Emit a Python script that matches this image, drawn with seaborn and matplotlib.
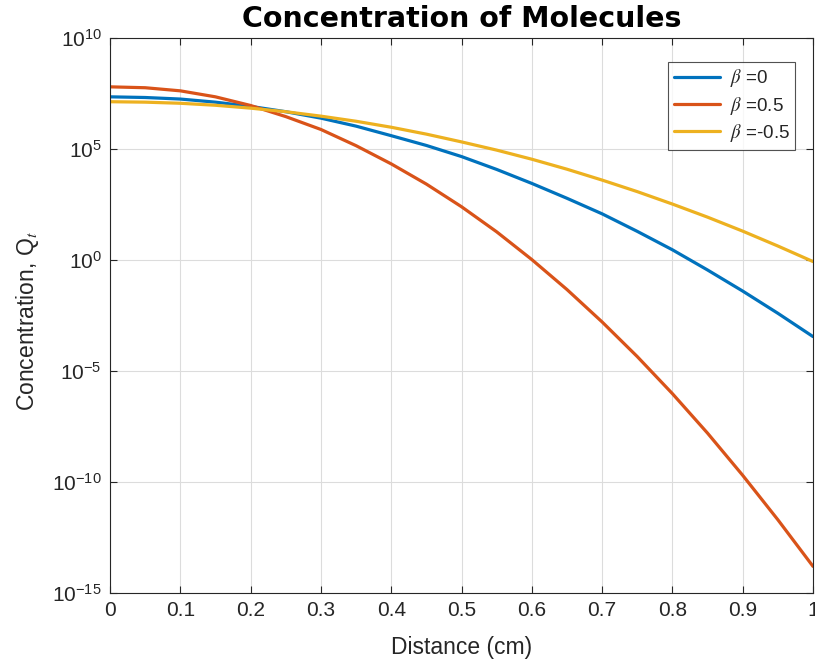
import numpy as np
import pandas as pd
import matplotlib
matplotlib.use("Agg")
import matplotlib.pyplot as plt
import seaborn as sns
from matplotlib.ticker import FixedLocator, LogFormatterSciNotation, NullLocator

# ---- data (y stored as log10 exponents) ----
distance = [0.00, 0.05, 0.10, 0.15, 0.20, 0.25, 0.30, 0.35, 0.40, 0.45, 0.50,
            0.55, 0.60, 0.65, 0.70, 0.75, 0.80, 0.85, 0.90, 0.95, 1.00]
log_beta_0 = [7.35, 7.32, 7.25, 7.11, 6.92, 6.68, 6.39, 6.03, 5.60, 5.16, 4.66,
              4.08, 3.45, 2.78, 2.08, 1.29, 0.46, -0.45, -1.40, -2.40, -3.45]
log_beta_p05 = [7.80, 7.76, 7.62, 7.35, 6.96, 6.46, 5.88, 5.15, 4.33, 3.42, 2.40,
                1.27, 0.02, -1.33, -2.79, -4.35, -6.02, -7.80, -9.70, -11.70, -13.80]
log_beta_m05 = [7.13, 7.11, 7.06, 6.97, 6.84, 6.68, 6.48, 6.25, 5.98, 5.67, 5.32,
                4.95, 4.54, 4.09, 3.60, 3.08, 2.52, 1.93, 1.30, 0.63, -0.07]
series_labels = [r'$\beta$ =0', r'$\beta$ =0.5', r'$\beta$ =-0.5']
x_ticks = [0, 0.1, 0.2, 0.3, 0.4, 0.5, 0.6, 0.7, 0.8, 0.9, 1]
x_ticklabels = ['0', '0.1', '0.2', '0.3', '0.4', '0.5', '0.6', '0.7', '0.8', '0.9', '1']
y_ticks = [1e-15, 1e-10, 1e-5, 1e0, 1e5, 1e10]

colors = ['#0072BD', '#D95319', '#EDB120']

rows = []
for lab, vals in zip(series_labels, [log_beta_0, log_beta_p05, log_beta_m05]):
    for d, v in zip(distance, vals):
        rows.append({'Distance': d, 'Q': 10.0 ** v, 'series': lab})
df = pd.DataFrame(rows)

sns.set_theme(style='white')
plt.rcParams['font.family'] = ['Liberation Sans', 'DejaVu Sans']
plt.rcParams['mathtext.fontset'] = 'stix'
plt.rcParams['axes.unicode_minus'] = False

fig = plt.figure(figsize=(8.15, 6.68), dpi=100)
ax = fig.add_axes([110 / 815, 1 - 593 / 668, 703 / 815, (593 - 38) / 668])

sns.lineplot(data=df, x='Distance', y='Q', hue='series', hue_order=series_labels,
             palette=colors, linewidth=2.3, ax=ax, sort=False)

ax.set_yscale('log')
ax.set_xlim(0, 1)
ax.set_ylim(1e-15, 1e10)
ax.yaxis.set_major_locator(FixedLocator(y_ticks))
ax.yaxis.set_major_formatter(LogFormatterSciNotation())
ax.yaxis.set_minor_locator(NullLocator())
ax.set_xticks(x_ticks)
ax.set_xticklabels(x_ticklabels)

ax.grid(True, color='#dcdcdc', linewidth=0.8)
ax.set_axisbelow(True)
for s in ax.spines.values():
    s.set_visible(True)
    s.set_color('#262626')
    s.set_linewidth(0.8)
ax.tick_params(axis='both', which='major', direction='in', length=5, width=0.8,
               color='#262626', labelsize=15, labelcolor='#262626',
               top=True, right=True, bottom=True, left=True, pad=6)

ax.set_xlabel('Distance (cm)', fontsize=16.5, color='#262626')
ax.xaxis.set_label_coords(0.5, -0.078)
ax.set_ylabel(r'Concentration, Q$_t$', fontsize=16.5, color='#262626')
ax.yaxis.set_label_coords(-0.098, 0.49)
ax.set_title('Concentration of Molecules', fontsize=20.5, fontweight='bold',
             color='black', pad=8, family='DejaVu Sans')

leg = ax.legend(loc='upper right', bbox_to_anchor=(0.975, 0.957), fontsize=13.5,
                frameon=True, fancybox=False, edgecolor='#262626',
                handlelength=2.5, borderpad=0.3, labelspacing=0.28,
                handletextpad=0.5, borderaxespad=0)
leg.get_frame().set_linewidth(0.8)
for line in leg.get_lines():
    line.set_linewidth(2.3)

fig.savefig('out.png', dpi=100)
